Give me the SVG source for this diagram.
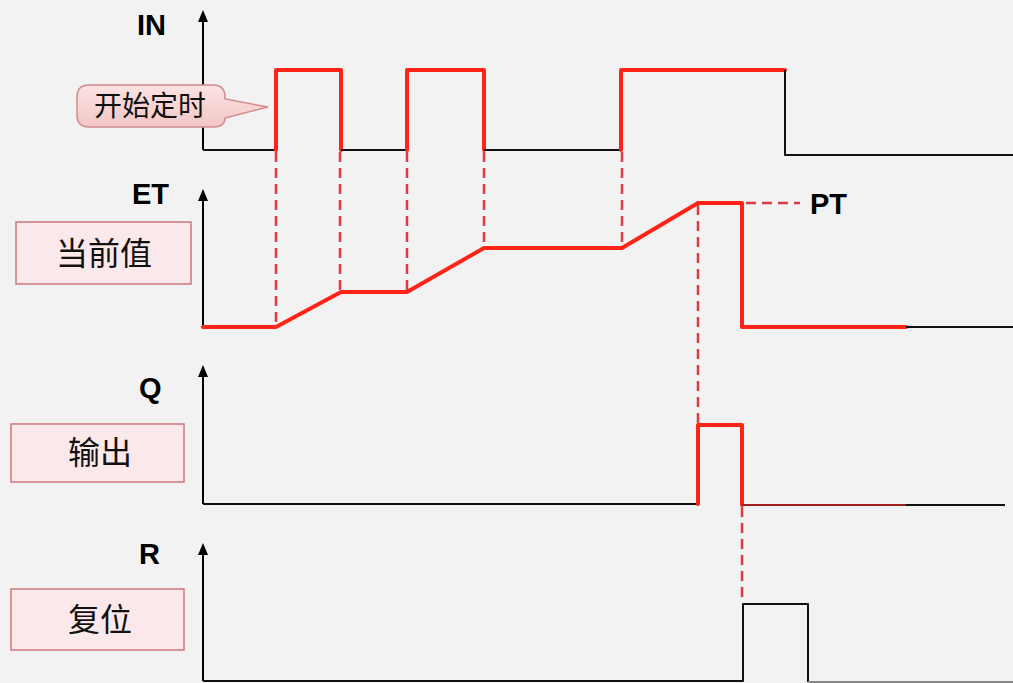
<svg xmlns="http://www.w3.org/2000/svg" width="1013" height="683" viewBox="0 0 1013 683">
<defs>
<marker id="arr" viewBox="0 0 12 10" refX="10" refY="5" markerWidth="12" markerHeight="10" markerUnits="userSpaceOnUse" orient="auto">
<path d="M0,0 L12,5 L0,10 Z" fill="#000"/>
</marker>
<linearGradient id="cg" x1="0" y1="0" x2="0" y2="1">
<stop offset="0" stop-color="#fbe3e3"/>
<stop offset="1" stop-color="#f2c6c6"/>
</linearGradient>
</defs>
<style>
.ax{fill:none;stroke:#000;stroke-width:2}
.blk{fill:none;stroke:#111;stroke-width:2;stroke-linejoin:round}
.red{fill:none;stroke:#ff2318;stroke-width:4;stroke-linejoin:round;stroke-linecap:round}
.dash{fill:none;stroke:#dc3c46;stroke-width:2.5;stroke-dasharray:10,6}
.lbl{font-family:"Liberation Sans",Arial,sans-serif;font-weight:bold;font-size:29px;fill:#000}
.box{fill:#fbe8ea;stroke:#c97a7e;stroke-width:1.5}
.cn{font-family:"Noto Sans CJK SC","Noto Sans",sans-serif;font-size:32px;fill:#111;text-anchor:middle}
.cns{font-size:28px}
</style>
<rect width="1013" height="683" fill="#f2f2f2"/>

<g id="connectors">
<line class="dash" x1="276" y1="152" x2="276" y2="327"/>
<line class="dash" x1="340" y1="152" x2="340" y2="292"/>
<line class="dash" x1="407" y1="152" x2="407" y2="292"/>
<line class="dash" x1="484" y1="152" x2="484" y2="248"/>
<line class="dash" x1="622" y1="152" x2="622" y2="248"/>
<line class="dash" x1="698" y1="205" x2="698" y2="425"/>
<line class="dash" x1="742" y1="507" x2="742" y2="597"/>
<line class="dash" x1="746" y1="203" x2="800" y2="203"/>
</g>

<g id="IN">
<line class="ax" x1="203" y1="150" x2="203" y2="12" marker-end="url(#arr)"/>
<text class="lbl" x="137" y="35">IN</text>
<polyline class="blk" points="203,150 276,150"/>
<polyline class="red" points="276,150 276,70 341,70 341,150"/>
<polyline class="blk" points="341,150 407,150"/>
<polyline class="red" points="407,150 407,70 484,70 484,150"/>
<polyline class="blk" points="484,150 621,150"/>
<polyline class="red" points="621,150 621,70 785,70"/>
<polyline class="blk" points="785,70 785,155 1013,155"/>
</g>

<g id="callout">
<path d="M89,85 H213 Q225,85 225,97 V99 L268,107 L225,118 Q225,127 213,127 H89 Q77,127 77,115 V97 Q77,85 89,85 Z" fill="url(#cg)" stroke="#d48a8a" stroke-width="1.5"/>
<text class="cn cns" x="150" y="116">开始定时</text>
</g>

<g id="ET">
<line class="ax" x1="203" y1="327" x2="203" y2="191" marker-end="url(#arr)"/>
<text class="lbl" x="132" y="204">ET</text>
<rect class="box" x="16" y="222" width="175" height="62"/>
<text class="cn" x="104" y="265">当前值</text>
<polyline class="red" points="203,327 276,327 341,292 407,292 484,248 622,248 698,203 742,203 742,327 906,327"/>
<line class="blk" x1="906" y1="327" x2="1013" y2="327"/>
<text class="lbl" x="810" y="214">PT</text>
</g>

<g id="Q">
<line class="ax" x1="203" y1="504" x2="203" y2="367" marker-end="url(#arr)"/>
<text class="lbl" x="139" y="398">Q</text>
<rect class="box" x="11" y="424" width="173" height="58"/>
<text class="cn" x="100" y="464">输出</text>
<polyline class="blk" points="203,504 698,504"/>
<polyline class="red" points="698,504 698,425 742,425 742,505"/>
<line x1="742" y1="505" x2="906" y2="505" stroke="#a02020" stroke-width="2"/>
<line class="blk" x1="906" y1="505" x2="1005" y2="505"/>
</g>

<g id="R">
<line class="ax" x1="203" y1="681" x2="203" y2="545" marker-end="url(#arr)"/>
<text class="lbl" x="139" y="564">R</text>
<rect class="box" x="11" y="589" width="173" height="61"/>
<text class="cn" x="100" y="631">复位</text>
<polyline class="blk" points="203,681 743,681 743,604 808,604 808,682"/>
<line x1="808" y1="682" x2="1013" y2="682" stroke="#888" stroke-width="2"/>
</g>
</svg>
